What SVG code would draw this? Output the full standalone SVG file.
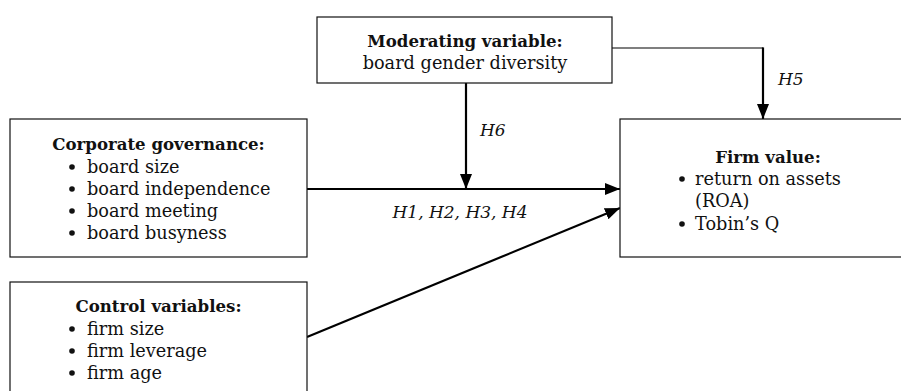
<svg xmlns="http://www.w3.org/2000/svg" width="901" height="391" viewBox="0 0 901 391">
<style>
text{font-family:"DejaVu Serif","Liberation Serif",serif;font-size:17.7px;fill:#111}
.h{font-weight:bold;text-anchor:middle;font-size:16.6px}
.c{text-anchor:middle}
.i{font-style:italic;font-size:17px}
.box{fill:#fff;stroke:#111;stroke-width:1.2}
.arr{fill:none;stroke:#000;stroke-width:2.2}
.thin{fill:none;stroke:#000;stroke-width:1.2}
.dot{fill:#111}
</style>
<defs>
<marker id="ah" markerUnits="userSpaceOnUse" markerWidth="16" markerHeight="12" viewBox="0 0 16 12" refX="15" refY="6" orient="auto">
<path d="M0,0 L15,6 L0,12 Z" fill="#000"/>
</marker>
</defs>
<g id="connectors">
<line class="arr" x1="307" y1="189" x2="620" y2="189" marker-end="url(#ah)"/>
<line class="arr" x1="466" y1="83" x2="466" y2="189" marker-end="url(#ah)"/>
<line class="arr" x1="307" y1="337" x2="620" y2="208" marker-end="url(#ah)"/>
<polyline class="thin" points="612,48 763,48"/>
<line class="arr" x1="763" y1="47.4" x2="763" y2="119" marker-end="url(#ah)"/>
<text class="i" x="480" y="136">H6</text>
<text class="i" x="778" y="85">H5</text>
<text class="i c" x="460" y="218">H1, H2, H3, H4</text>
</g>
<g id="moderating">
<rect class="box" x="317" y="17" width="295" height="66"/>
<text class="h" x="465" y="47">Moderating variable:</text>
<text class="c" x="465" y="69">board gender diversity</text>
</g>
<g id="governance">
<rect class="box" x="10" y="119" width="297" height="138"/>
<text class="h" x="158.5" y="150">Corporate governance:</text>
<circle class="dot" cx="72" cy="167" r="2.8"/><text x="87" y="173">board size</text>
<circle class="dot" cx="72" cy="189" r="2.8"/><text x="87" y="195">board independence</text>
<circle class="dot" cx="72" cy="211" r="2.8"/><text x="87" y="217">board meeting</text>
<circle class="dot" cx="72" cy="233" r="2.8"/><text x="87" y="239">board busyness</text>
</g>
<g id="control">
<rect class="box" x="10" y="282" width="297" height="120"/>
<text class="h" x="158.5" y="312">Control variables:</text>
<circle class="dot" cx="72" cy="329" r="2.8"/><text x="87" y="335">firm size</text>
<circle class="dot" cx="72" cy="351" r="2.8"/><text x="87" y="357">firm leverage</text>
<circle class="dot" cx="72" cy="373" r="2.8"/><text x="87" y="379">firm age</text>
</g>
<g id="firmvalue">
<rect class="box" x="620" y="119" width="290" height="138"/>
<text class="h" x="768" y="163">Firm value:</text>
<circle class="dot" cx="682" cy="179" r="2.8"/><text x="695" y="185">return on assets</text>
<text x="695" y="207">(ROA)</text>
<circle class="dot" cx="682" cy="224" r="2.8"/><text x="695" y="230">Tobin’s Q</text>
</g>
</svg>
